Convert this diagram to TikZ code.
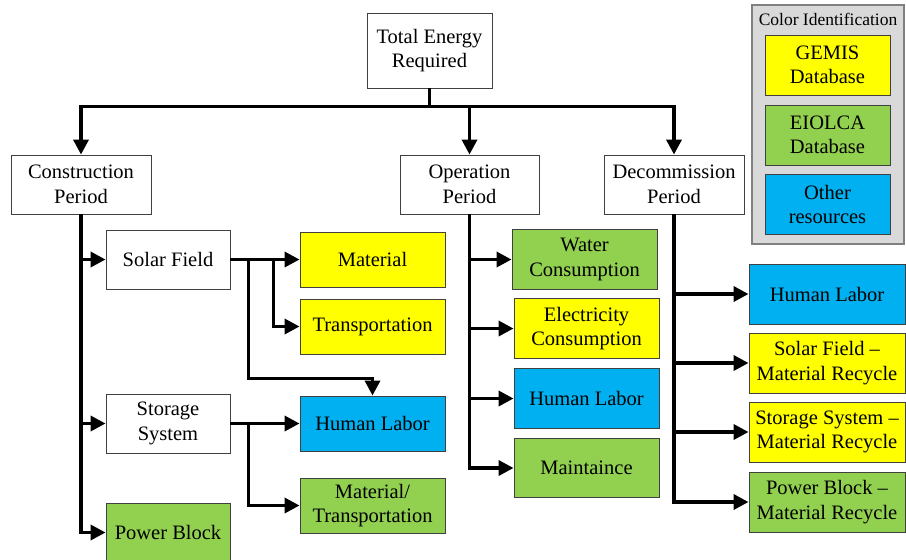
\documentclass[tikz,border=0pt]{standalone}
\usepackage{fontspec}
\setmainfont{Liberation Serif}
\usepackage{xcolor}
\usetikzlibrary{arrows.meta, positioning}

\definecolor{gemisyellow}{HTML}{FFFF00}
\definecolor{eiolcagreen}{HTML}{92D050}
\definecolor{otherblue}{HTML}{00B0F0}

\begin{document}
\begin{tikzpicture}[
  x=1pt, y=-1pt,
  every node/.style={draw=black!75, line width=0.9pt, align=center, inner sep=0pt,
    font=\fontsize{20.5}{24.5}\selectfont},
  period/.style={fill=white, minimum width=140pt, minimum height=59pt},
  part/.style={fill=white, minimum width=124pt, minimum height=59pt},
  item/.style={minimum width=145pt, minimum height=55pt},
  task/.style={minimum width=145pt, minimum height=59.5pt},
  recycle/.style={minimum width=156pt, minimum height=60pt},
  gemis/.style={fill=gemisyellow},
  eiolca/.style={fill=eiolcagreen},
  other/.style={fill=otherblue},
  legendbox/.style={fill=black!15, draw=black!50, line width=1.5pt, minimum width=152pt, minimum height=239pt},
  key/.style={minimum width=125pt, minimum height=60pt},
  arrow/.style={-{Triangle[length=15pt, width=15pt]}, line width=3.5pt, line join=miter}
]
\useasboundingbox (0,0) rectangle (906,560);

\node[fill=white, minimum width=125pt, minimum height=75pt] (total) at (429.5,50.5) {Total Energy\\Required};

\node[period] (cons) at (81,184.5) {Construction\\Period};
\node[period, minimum width=139pt] (oper) at (469.5,184.5) {Operation\\Period};
\node[period] (decom) at (674,184.5) {Decommission\\Period};

\node[part] (solar) at (168,259.5) {Solar Field};
\node[part] (storage) at (168,423.5) {Storage\\System};
\node[part, eiolca] (power) at (168,532.5) {Power Block};

\node[item, gemis] (material) at (372.5,259.5) {Material};
\node[item, gemis] (transp) at (372.5,326.5) {Transportation};
\node[item, other] (labor1) at (372.5,423.5) {Human Labor};
\node[item, eiolca] (mattr) at (372.5,505.5) {Material/\\Transportation};

\node[task, eiolca] (water) at (584.5,259.5) {Water\\Consumption};
\node[task, gemis] (elec) at (586.5,328.5) {Electricity\\Consumption};
\node[task, other] (labor2) at (586.5,398.5) {Human Labor};
\node[task, eiolca] (maint) at (586.5,468) {Maintaince};

\node[recycle, other] (labor3) at (827,294) {Human Labor};
\node[recycle, gemis] (recsolar) at (827,363) {Solar Field --\\Material Recycle};
\node[recycle, gemis] (recstor) at (827,432) {Storage System --\\Material Recycle};
\node[recycle, eiolca] (recpower) at (827,502) {Power Block --\\Material Recycle};

\node[legendbox] (legend) at (828,124.5) {};
\node[draw=none, font=\fontsize{17.5}{21}\selectfont] (ltitle) at (828,19) {Color Identification};
\node[key, gemis] (kgemis) at (827.5,65) {GEMIS\\Database};
\node[key, eiolca] (keiolca) at (827.5,135) {EIOLCA\\Database};
\node[key, other] (kother) at (827.5,204.5) {Other\\resources};

\draw[arrow] (total.south) -- ++(0,18) -| (cons.north);
\draw[arrow] (total.south) -- ++(0,18) -| (oper.north);
\draw[arrow] (total.south) -- ++(0,18) -| (decom.north);

\draw[arrow] (cons.south) |- (solar.west);
\draw[arrow] (cons.south) |- (storage.west);
\draw[arrow] (cons.south) |- (power.west);

\draw[arrow] (solar.east) -- (material.west);
\draw[arrow] (solar.east) -- ++(43,0) |- (transp.west);
\draw[arrow] (solar.east) -- ++(18,0) -- ++(0,119) -| (labor1.north);

\draw[arrow] (storage.east) -- (labor1.west);
\draw[arrow] (storage.east) -- ++(18,0) |- (mattr.west);

\draw[arrow] (oper.south) |- (water.west);
\draw[arrow] (oper.south) |- (elec.west);
\draw[arrow] (oper.south) |- (labor2.west);
\draw[arrow] (oper.south) |- (maint.west);

\draw[arrow] (decom.south) |- (labor3.west);
\draw[arrow] (decom.south) |- (recsolar.west);
\draw[arrow] (decom.south) |- (recstor.west);
\draw[arrow] (decom.south) |- (recpower.west);

\end{tikzpicture}
\end{document}
